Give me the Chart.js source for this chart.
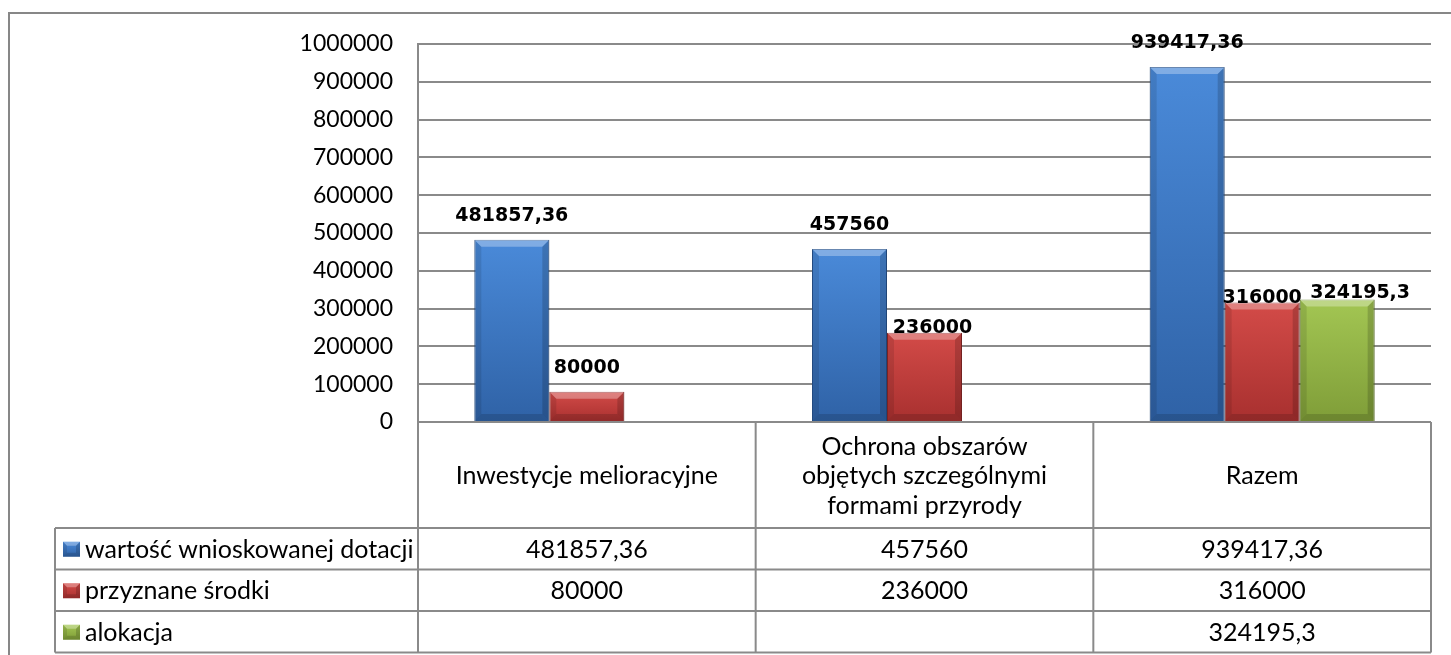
<!DOCTYPE html>
<html>
<head>
<meta charset="utf-8">
<script src="https://cdn.jsdelivr.net/npm/chart.js@4.4.0/dist/chart.umd.min.js"></script>
<style>
  body { margin: 0; background: #fff; }
  #wrap { width: 1451px; height: 655px; }
</style>
</head>
<body>
<div id="wrap"><canvas id="chart" width="1451" height="655"></canvas></div>
<script>
// dane
const categories  = [["Inwestycje melioracyjne"], ["Ochrona obszarów", "objętych szczególnymi", "formami przyrody"], ["Razem"]];
const seriesNames = ["wartość wnioskowanej dotacji", "przyznane środki", "alokacja"];
const requested   = [481857.36, 457560, 939417.36];
const granted     = [80000, 236000, 316000];
const allocation  = [null, null, 324195.3];
const yMax  = 1000000;
const yStep = 100000;

// wygląd
const GRID   = "#8a8a8a";
const FONT   = "Lato";
const COLORS = [
  { base: "#3d7ccb", top: "#4a8ad9", bottom: "#2f62a6", dark: "#27538e" },
  { base: "#c63f3d", top: "#d34b48", bottom: "#a8302f", dark: "#8a2726" },
  { base: "#97b94a", top: "#a3c653", bottom: "#7f9d38", dark: "#68822c" }
];
// przesunięcia etykiet (dx, odstęp nad słupkiem) – jak w oryginale
const labelDx  = [[0, 0, 0], [0, 8, 0], [0, 0, 23]];
const labelGap = [[19, 19, 19], [19, 0, 0], [19, 19, 1]];

const LEGEND_LEFT = 55;
const HEADER_H = 106;
const ROW_H = 41.5;

const fmt = v => String(v).replace(".", ",");

function barFill(i) {
  return ctx => {
    const c = COLORS[i];
    if (ctx.type !== "data" || ctx.raw == null) return c.base;
    const y = ctx.chart.scales.y;
    if (!y) return c.base;
    const top = y.getPixelForValue(ctx.raw);
    const bot = y.getPixelForValue(0);
    if (!isFinite(top) || !isFinite(bot)) return c.base;
    const g = ctx.chart.ctx.createLinearGradient(0, top, 0, bot);
    g.addColorStop(0, c.top);
    g.addColorStop(1, c.bottom);
    return g;
  };
}

const frame = {
  id: "frame",
  beforeDraw(chart) {
    const ctx = chart.ctx;
    ctx.save();
    ctx.strokeStyle = "#878787";
    ctx.lineWidth = 2;
    ctx.strokeRect(9, 13, 3000, 3000);
    ctx.restore();
  }
};

function bevel(ctx, left, right, top, bottom, b) {
  if (bottom - top < 2 * b) b = (bottom - top) / 2;
  ctx.fillStyle = "rgba(255,255,255,0.3)";
  ctx.beginPath();
  ctx.moveTo(left, top); ctx.lineTo(right, top);
  ctx.lineTo(right - b, top + b); ctx.lineTo(left + b, top + b);
  ctx.closePath(); ctx.fill();
  ctx.fillStyle = "rgba(0,0,0,0.10)";
  ctx.beginPath();
  ctx.moveTo(left, top); ctx.lineTo(left + b, top + b);
  ctx.lineTo(left + b, bottom - b); ctx.lineTo(left, bottom);
  ctx.closePath(); ctx.fill();
  ctx.fillStyle = "rgba(0,0,0,0.16)";
  ctx.beginPath();
  ctx.moveTo(right, top); ctx.lineTo(right - b, top + b);
  ctx.lineTo(right - b, bottom - b); ctx.lineTo(right, bottom);
  ctx.closePath(); ctx.fill();
  ctx.fillStyle = "rgba(0,0,0,0.14)";
  ctx.beginPath();
  ctx.moveTo(left, bottom); ctx.lineTo(left + b, bottom - b);
  ctx.lineTo(right - b, bottom - b); ctx.lineTo(right, bottom);
  ctx.closePath(); ctx.fill();
}

const barDecor = {
  id: "barDecor",
  afterDatasetsDraw(chart) {
    const ctx = chart.ctx;
    ctx.save();
    chart.data.datasets.forEach((ds, di) => {
      const meta = chart.getDatasetMeta(di);
      meta.data.forEach((el, i) => {
        if (ds.data[i] == null) return;
        const { x, y, base, width } = el.getProps(["x", "y", "base", "width"], true);
        bevel(ctx, x - width / 2, x + width / 2, y, base, 7);
      });
    });
    // etykiety danych
    ctx.font = "bold 19px 'DejaVu Sans'";
    ctx.fillStyle = "#000";
    ctx.textAlign = "center";
    ctx.textBaseline = "alphabetic";
    chart.data.datasets.forEach((ds, di) => {
      const meta = chart.getDatasetMeta(di);
      meta.data.forEach((el, i) => {
        if (ds.data[i] == null) return;
        const { x, y } = el.getProps(["x", "y"], true);
        ctx.fillText(fmt(ds.data[i]), x + labelDx[di][i], y - labelGap[di][i]);
      });
    });
    ctx.restore();
  }
};

function swatch(ctx, x, y, w, h, c) {
  const g = ctx.createLinearGradient(0, y, 0, y + h);
  g.addColorStop(0, c.top);
  g.addColorStop(1, c.bottom);
  ctx.fillStyle = g;
  ctx.fillRect(x, y, w, h);
  bevel(ctx, x, x + w, y, y + h, 4);
}

const dataTable = {
  id: "dataTable",
  afterDraw(chart) {
    const ctx = chart.ctx;
    const xs = chart.scales.x;
    const area = chart.chartArea;
    const n = categories.length;
    const colW = (area.right - area.left) / n;
    const top = area.bottom;
    const rowsTop = top + HEADER_H;
    const rows = chart.data.datasets.length;
    const bottom = rowsTop + rows * ROW_H;

    ctx.save();
    ctx.strokeStyle = GRID;
    ctx.lineWidth = 2;
    ctx.beginPath();
    // pionowe
    for (let i = 0; i <= n; i++) {
      const x = area.left + i * colW;
      ctx.moveTo(x, top); ctx.lineTo(x, bottom);
    }
    ctx.moveTo(LEGEND_LEFT, rowsTop); ctx.lineTo(LEGEND_LEFT, bottom);
    // poziome
    for (let r = 0; r <= rows; r++) {
      const y = rowsTop + r * ROW_H;
      ctx.moveTo(LEGEND_LEFT, y); ctx.lineTo(area.right, y);
    }
    ctx.stroke();

    ctx.fillStyle = "#000";
    ctx.font = "25px " + FONT;
    ctx.textBaseline = "middle";
    ctx.textAlign = "center";
    // nagłówki kategorii
    categories.forEach((lines, i) => {
      const cx = xs.getPixelForValue(i);
      const lh = 29.5;
      const mid = top + HEADER_H / 2 + 1;
      lines.forEach((t, k) => {
        ctx.fillText(t, cx, mid + (k - (lines.length - 1) / 2) * lh);
      });
    });
    // wiersze serii
    chart.data.datasets.forEach((ds, di) => {
      const cy = rowsTop + di * ROW_H + ROW_H / 2 + 1;
      swatch(ctx, LEGEND_LEFT + 8, cy - 8, 17, 15, COLORS[di]);
      ctx.fillStyle = "#000";
      ctx.textAlign = "left";
      ctx.fillText(ds.label, LEGEND_LEFT + 30, cy);
      ctx.textAlign = "center";
      ds.data.forEach((v, i) => {
        if (v == null) return;
        ctx.fillText(fmt(v), xs.getPixelForValue(i), cy);
      });
    });
    ctx.restore();
  }
};

const seriesData = [requested, granted, allocation];

new Chart(document.getElementById("chart"), {
  type: "bar",
  data: {
    labels: categories,
    datasets: seriesNames.map((name, i) => ({
      label: name,
      data: seriesData[i],
      backgroundColor: barFill(i),
      borderColor: COLORS[i].dark,
      borderWidth: 1,
      categoryPercentage: 0.6663,
      barPercentage: 1
    }))
  },
  options: {
    responsive: false,
    animation: false,
    layout: { padding: { top: 44, right: 20, bottom: 233, left: 0 } },
    plugins: { legend: { display: false }, tooltip: { enabled: false } },
    scales: {
      x: {
        grid: { display: false },
        border: { display: false },
        ticks: { display: false },
        afterFit: s => { s.height = 0; }
      },
      y: {
        min: 0,
        max: yMax,
        ticks: {
          stepSize: yStep,
          padding: 25,
          color: "#000",
          font: { family: FONT, size: 23 },
          callback: v => String(v)
        },
        grid: { color: GRID, lineWidth: 2, drawTicks: false },
        border: { display: true, color: GRID, width: 2 },
        afterFit: s => { s.width = 418; }
      }
    }
  },
  plugins: [frame, barDecor, dataTable]
});
</script>
</body>
</html>
